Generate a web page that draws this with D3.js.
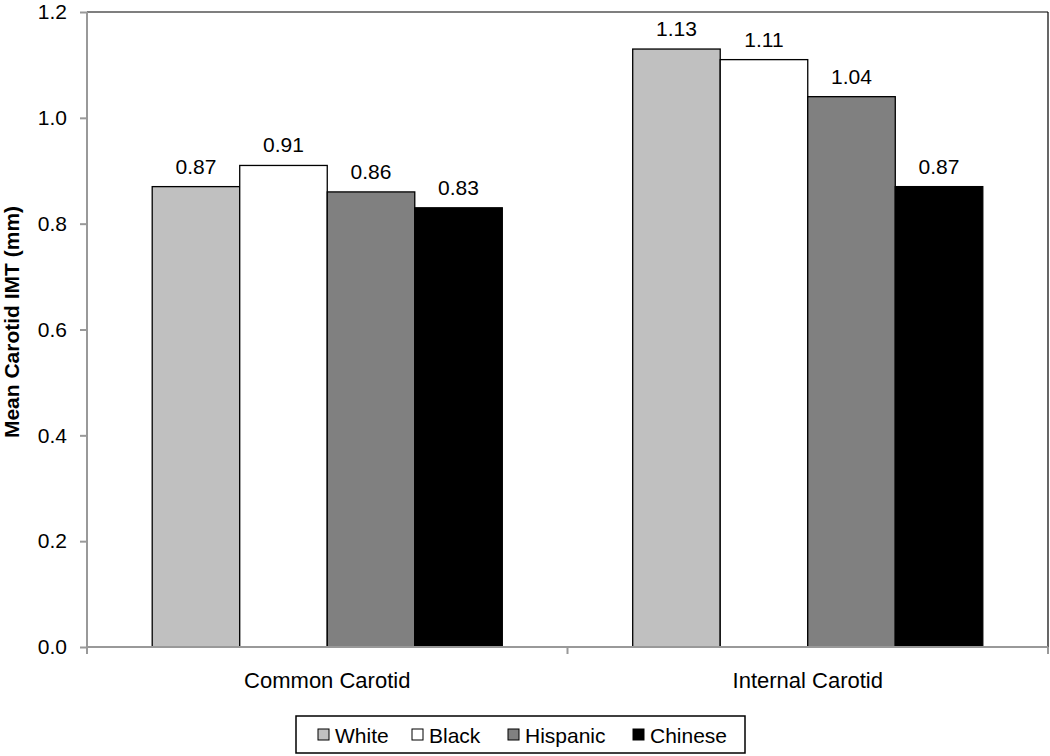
<!DOCTYPE html>
<html>
<head>
<meta charset="utf-8">
<script src="https://cdn.jsdelivr.net/npm/d3@7"></script>
<style>
  body { margin: 0; background: #fff; }
  svg { display: block; font-family: "Liberation Sans", Arial, sans-serif; }
</style>
</head>
<body>
<svg id="chart" width="1050" height="756"></svg>
<script>
const categories = ["Common Carotid", "Internal Carotid"];
const seriesNames = ["White", "Black", "Hispanic", "Chinese"];
const seriesColors = ["#c0c0c0", "#ffffff", "#808080", "#000000"];
const white = [0.87, 1.13];
const black = [0.91, 1.11];
const hispanic = [0.86, 1.04];
const chinese = [0.83, 0.87];
const yTicks = [0.0, 0.2, 0.4, 0.6, 0.8, 1.0, 1.2];
const yTitle = "Mean Carotid IMT (mm)";

const seriesValues = [white, black, hispanic, chinese];

const svg = d3.select("#chart");
const L = 87, R = 1048, T = 12, B = 647;

const y = d3.scaleLinear().domain([0, 1.2]).range([B, T]);
const x0 = d3.scaleBand().domain(categories).range([L, R]).paddingInner(0).paddingOuter(0);
const x1 = d3.scaleBand().domain(seriesNames).range([0, x0.bandwidth()]).paddingInner(0).paddingOuter(0.745);

// plot border (top and right black)
svg.append("line").attr("x1", L).attr("x2", R).attr("y1", T).attr("y2", T)
  .attr("stroke", "#000").attr("stroke-width", 1.2);
svg.append("line").attr("x1", R).attr("x2", R).attr("y1", T).attr("y2", B)
  .attr("stroke", "#000").attr("stroke-width", 1.2);

// bars
const groups = svg.append("g").selectAll("g").data(categories).join("g")
  .attr("transform", d => `translate(${x0(d)},0)`);
groups.each(function(cat, ci) {
  const g = d3.select(this);
  seriesNames.forEach((s, si) => {
    const v = seriesValues[si][ci];
    g.append("rect")
      .attr("x", x1(s)).attr("width", x1.bandwidth())
      .attr("y", y(v)).attr("height", y(0) - y(v))
      .attr("fill", seriesColors[si]).attr("stroke", "#000").attr("stroke-width", 1.3);
    g.append("text")
      .attr("x", x1(s) + x1.bandwidth() / 2).attr("y", y(v) - 13)
      .attr("text-anchor", "middle").attr("font-size", 21).attr("fill", "#000")
      .text(v.toFixed(2));
  });
});

// y axis
const yAxis = d3.axisLeft(y).tickValues(yTicks).tickFormat(d3.format(".1f")).tickSize(7).tickPadding(13);
const ya = svg.append("g").attr("transform", `translate(${L},0)`).call(yAxis);
ya.select(".domain").attr("stroke", "#999").attr("stroke-width", 2).attr("d", `M0,${T}V${B}`);
ya.selectAll(".tick line").attr("stroke", "#999").attr("stroke-width", 2);
ya.selectAll(".tick text").attr("font-size", 21).attr("fill", "#000")
  .attr("font-family", "'Liberation Sans', Arial, sans-serif");

// x axis
const xa = svg.append("g").attr("transform", `translate(0,${B})`);
xa.append("line").attr("x1", L).attr("x2", R).attr("stroke", "#999").attr("stroke-width", 2);
const xBoundaries = [L].concat(categories.map(c => x0(c) + x0.bandwidth()));
xa.selectAll("line.tk").data(xBoundaries).join("line").attr("class", "tk")
  .attr("x1", d => d).attr("x2", d => d).attr("y1", 0).attr("y2", 7)
  .attr("stroke", "#999").attr("stroke-width", 2);
xa.selectAll("text").data(categories).join("text")
  .attr("x", d => x0(d) + x0.bandwidth() / 2).attr("y", 41)
  .attr("text-anchor", "middle").attr("font-size", 22).attr("fill", "#000")
  .text(d => d);

// y title
svg.append("text")
  .attr("transform", `translate(19,322) rotate(-90)`)
  .attr("text-anchor", "middle").attr("font-size", 21).attr("font-weight", "bold")
  .text(yTitle);

// legend
const lg = svg.append("g");
lg.append("rect").attr("x", 296).attr("y", 716).attr("width", 449).attr("height", 37)
  .attr("fill", "#fff").attr("stroke", "#000").attr("stroke-width", 1.5);
const legX = [318, 412, 508, 633];
seriesNames.forEach((s, i) => {
  lg.append("rect").attr("x", legX[i]).attr("y", 729).attr("width", 11).attr("height", 11)
    .attr("fill", seriesColors[i]).attr("stroke", "#000").attr("stroke-width", 1);
  lg.append("text").attr("x", legX[i] + 17).attr("y", 743)
    .attr("font-size", 21).attr("fill", "#000").text(s);
});
</script>
</body>
</html>
